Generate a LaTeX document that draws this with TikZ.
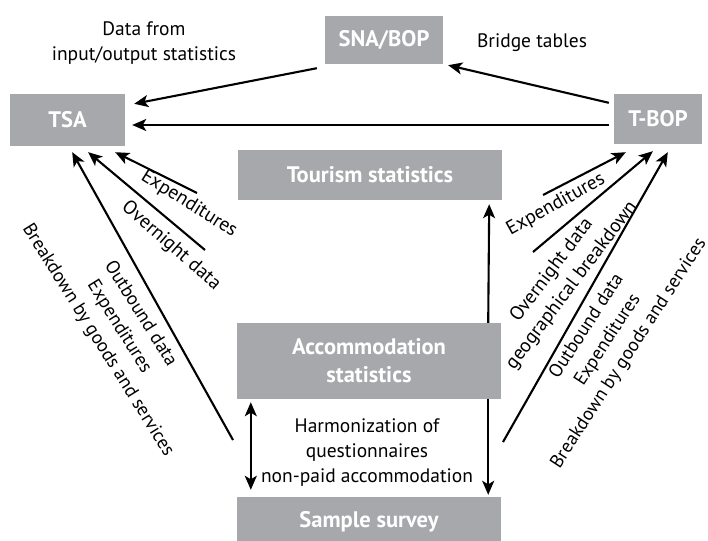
\documentclass[tikz,border=0pt]{standalone}
\usepackage{fontspec}
\setmainfont{PT Sans}
\usetikzlibrary{arrows.meta}
\definecolor{boxgray}{RGB}{167,168,171}
\begin{document}
\begin{tikzpicture}[x=1pt,y=-1pt,
   box/.style={fill=boxgray, text=white, inner sep=0pt, align=center,
               font=\fontsize{22.5}{28}\selectfont\bfseries},
   lbl/.style={align=center, inner sep=1pt, font=\fontsize{19.5}{25}\selectfont},
   lblsm/.style={lbl, font=\fontsize{18.8}{25}\selectfont},
   arr/.style={-{Stealth[length=14pt,width=12pt,inset=3.5pt]}, line width=2.1pt},
   darr/.style={{Stealth[length=14pt,width=12pt,inset=3.5pt]}-{Stealth[length=14pt,width=12pt,inset=3.5pt]}, line width=2.1pt}]
   \clip (0,0) rectangle (708,540);
   \node[box, minimum width=118pt, minimum height=48pt] (sna)  at (384,40)  {SNA/BOP};
   \node[box, minimum width=115pt, minimum height=52pt] (tsa)  at (67.5,120) {TSA};
   \node[box, minimum width=88pt,  minimum height=50pt] (tbop) at (658,119) {T-BOP};
   \node[box, minimum width=264pt, minimum height=50pt] (tour) at (370,175) {Tourism statistics};
   \node[box, minimum width=264pt, minimum height=76pt] (acc)  at (369,361) {Accommodation\\statistics};
   \node[box, minimum width=264pt, minimum height=50pt] (samp) at (369,522) {Sample survey};
   \draw[arr] ([shift={(-8,4)}]sna.south west) -- ([shift={(9,10)}]tsa.north east);
   \draw[arr] ([shift={(-5,6)}]tbop.west) -- ([shift={(7,5)}]tsa.east);
   \draw[arr] ([shift={(-5,9)}]tbop.north west) -- ([shift={(5,1)}]sna.south east);
   \coordinate (le1) at (197,193);
   \coordinate (le2) at (205,250);
   \coordinate (le3) at (233,440);
   \coordinate (re1) at (543,195);
   \coordinate (re2) at (533,252);
   \coordinate (re3) at (503,442);
   \draw[arr] (le1) -- ([shift={(-10,6)}]tsa.south east);
   \draw[arr] (le2) -- ([shift={(-37,6)}]tsa.south east);
   \draw[arr] (le3) -- ([shift={(-53,6)}]tsa.south east);
   \draw[arr] (re1) -- ([shift={(12,8)}]tbop.south west);
   \draw[arr] (re2) -- ([shift={(39,7)}]tbop.south west);
   \draw[arr] (re3) -- ([shift={(54,8)}]tbop.south west);
   \draw[arr] ([shift={(-13,0)}]acc.north east) -- ([shift={(-13,4)}]tour.south east);
   \draw[arr] ([shift={(-13,0)}]acc.south east) -- ([shift={(-13,-2)}]samp.north east);
   \draw[darr] ([shift={(14,3)}]acc.south west) -- ([shift={(14,-7)}]samp.north west);
   \node[lbl] (dfio) at (144,43) {Data from\\input/output statistics};
   \node[lbl] (brt)  at (532,43) {Bridge tables};
   \node[lbl] (harm) at (367,453) {Harmonization of\\questionnaires\\non-paid accommodation};
   \node[lbl, rotate=-32] (lx1) at (189,204) {Expenditures};
   \node[lbl, rotate=-41] (lx2) at (171,246) {Overnight data};
   \node[lblsm, rotate=-58] (lx3) at (119,327) {Outbound data\\Expenditures\\Breakdown by goods and services};
   \node[lbl, rotate=29]  (rx1) at (556,205) {Expenditures};
   \node[lbl, rotate=53]  (rx2) at (562,278) {Overnight data\\geographical breakdown};
   \node[lblsm, rotate=57]  (rx3) at (608,340) {Outbound data\\Expenditures\\Breakdown by goods and services};
\end{tikzpicture}
\end{document}
